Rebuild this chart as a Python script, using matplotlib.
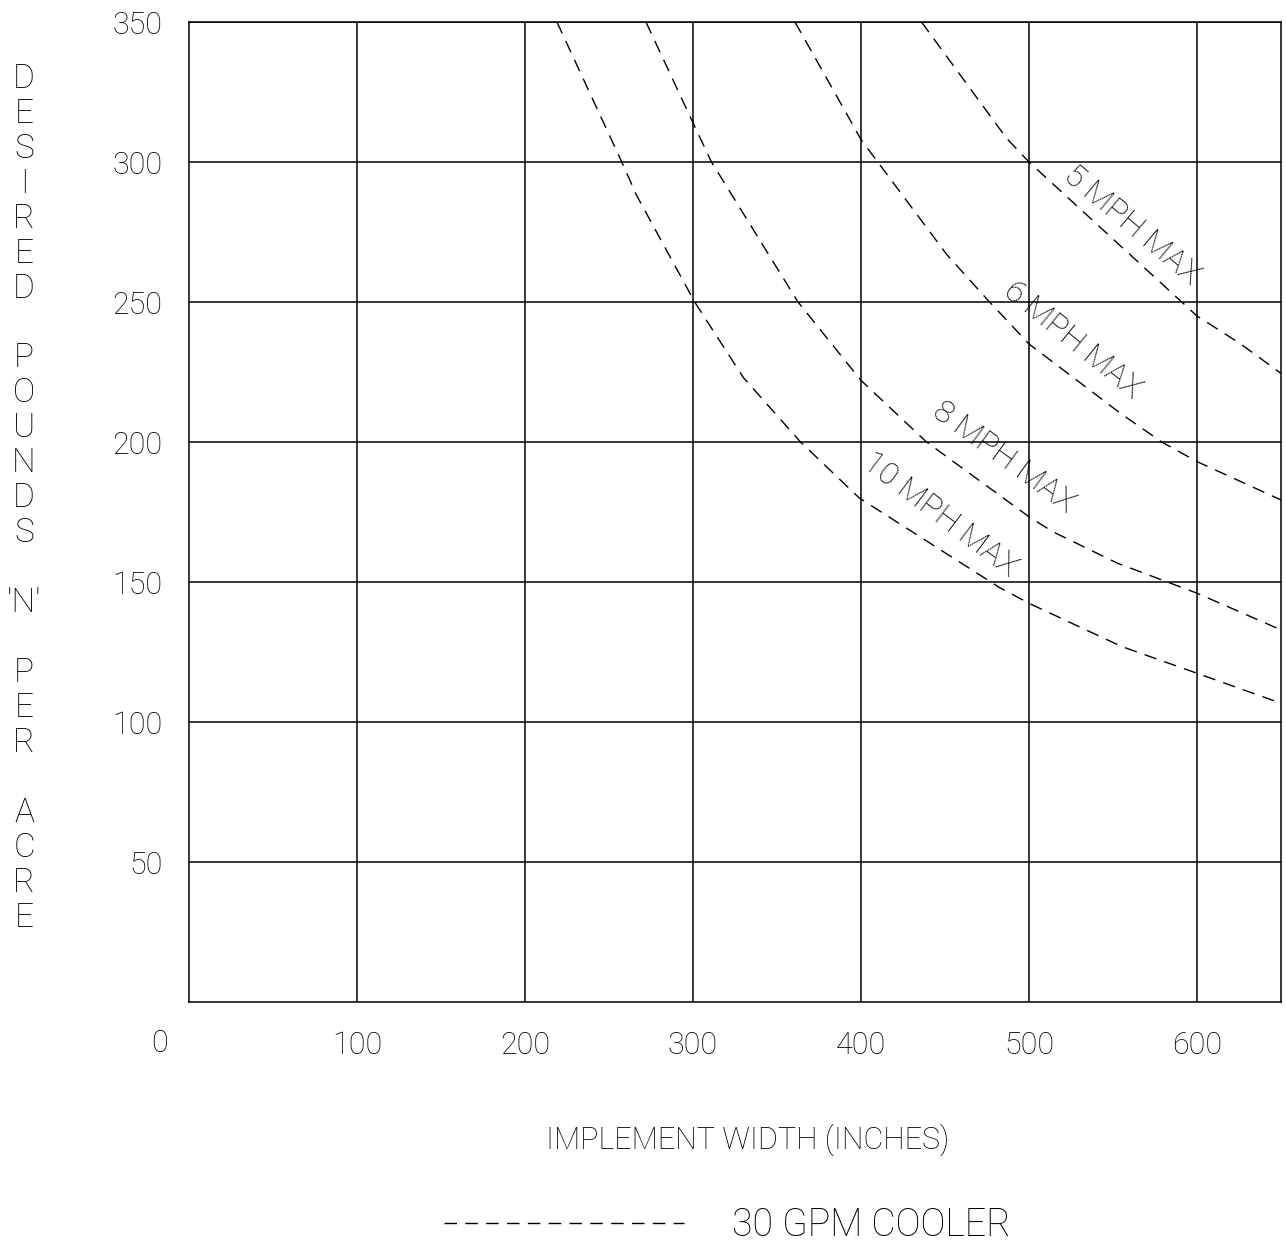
import matplotlib
matplotlib.use("Agg")
import matplotlib.pyplot as plt

plt.rcParams['font.family'] = ['Roboto', 'DejaVu Sans']
plt.rcParams['font.weight'] = 'light'
plt.rcParams['axes.labelweight'] = 'light'

# curves: implement width (in) vs pounds N per acre
w_5mph = [436, 486.6, 500, 600, 625.6, 650]
n_5mph = [350, 308.5, 300, 245, 235.2, 224.5]

w_6mph = [360.7, 393.5, 400, 451, 475, 500, 555, 579, 600, 650]
n_6mph = [350, 315, 308, 267, 251, 235, 210, 200, 193, 179.3]

w_8mph = [272, 300, 311, 362.5, 400, 439, 500, 514, 552.7, 600, 650]
n_8mph = [350, 314, 300, 250, 222, 200, 173.3, 168, 156.7, 146, 132.9]

w_10mph = [219, 257.6, 266.5, 301, 330, 364, 399, 482.5, 500, 555, 600, 650]
n_10mph = [350, 300, 288, 250, 223, 200, 180, 148, 142.4, 127, 117.4, 106.7]

curve_labels = ['5 MPH MAX', '6 MPH MAX', '8 MPH MAX', '10 MPH MAX']
label_x = [561, 526, 485, 447]
label_y = [277.5, 236.5, 194.5, 174]
label_rot = [-40, -39, -36, -37]

x_ticks = [100, 200, 300, 400, 500, 600]
y_ticks = [50, 100, 150, 200, 250, 300, 350]

fs = 22
fig = plt.figure(figsize=(12.86, 12.47), dpi=100)
ax = fig.add_axes([189 / 1286, 1 - 1002 / 1247, 1092 / 1286, 980 / 1247])

dash = (0, (9, 6))
lines = []
for w, n in [(w_5mph, n_5mph), (w_6mph, n_6mph), (w_8mph, n_8mph), (w_10mph, n_10mph)]:
    ln, = ax.plot(w, n, color='black', lw=1.0, linestyle=dash)
    lines.append(ln)

for txt, lx, ly, r in zip(curve_labels, label_x, label_y, label_rot):
    ax.text(lx, ly, txt, rotation=r, rotation_mode='anchor', ha='center',
            va='center', fontsize=23)

ax.set_xlim(0, 650)
ax.set_ylim(0, 350)
ax.set_xticks(x_ticks)
ax.set_yticks(y_ticks)
ax.set_xticklabels([str(v) for v in x_ticks])
ax.set_yticklabels([str(v) for v in y_ticks])
ax.tick_params(length=0, labelsize=fs, pad=19)
ax.tick_params(axis='x', pad=21)
ax.grid(True, color='black', lw=1.1)
for sp in ax.spines.values():
    sp.set_linewidth(1.1)

# corner zero
ax.annotate('0', xy=(0, 0), xytext=(-30, -41), textcoords='offset pixels',
            ha='center', va='center', fontsize=fs, annotation_clip=False)

ax.set_xlabel('IMPLEMENT WIDTH (INCHES)', fontsize=22, labelpad=46)
ax.xaxis.label.set_x((748 - 189) / 1092)

# vertical stacked y label
ylab = "DESIRED POUNDS 'N' PER ACRE"
rows = []
for word in ylab.split(' '):
    if word == "'N'":
        rows.append(word)
    else:
        rows.extend(list(word))
    rows.append('')
rows = rows[:-1]
step = 34.95
y0 = 78.8
for i, ch in enumerate(rows):
    if ch:
        fig.text(24 / 1286, 1 - (y0 + i * step) / 1247, ch, ha='center',
                 va='center', fontsize=24)

fig.legend(handles=[lines[0]], labels=['30 GPM COOLER'], loc='center',
           bbox_to_anchor=(727 / 1286, 1 - 1225 / 1247), frameon=False,
           fontsize=27, handlelength=6.4, handletextpad=1.28)

fig.savefig('out.png', dpi=100)
